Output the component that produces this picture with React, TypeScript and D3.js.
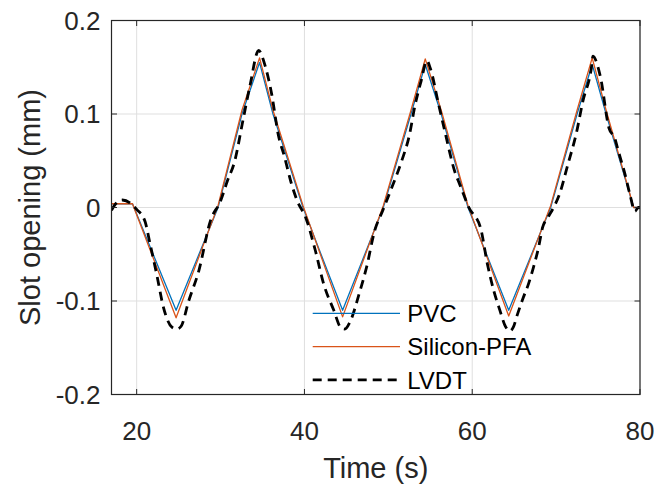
import React, { useEffect, useRef } from 'react';
import * as d3 from 'd3';

// simulated slot opening (PVC and Silicon-PFA models), time in s, opening in mm
const simTime = [17, 19.5, 24.7, 29.7, 32.55, 34.65, 36.25, 39.83, 44.55, 49.4, 52.7, 54.4, 56.3, 59.5, 64.35, 69.35, 72.5, 74.3, 75.96, 79.25, 80];
const pvc = [0.004, 0.004, -0.110, 0, 0.1, 0.155, 0.1, 0, -0.110, 0, 0.1, 0.153, 0.1, 0, -0.110, 0, 0.1, 0.153, 0.1, 0, 0];
const siliconPfa = [0.004, 0.004, -0.118, 0.002, 0.104, 0.160, 0.104, 0.002, -0.117, 0.002, 0.104, 0.159, 0.104, 0.002, -0.116, 0.002, 0.104, 0.160, 0.104, 0, 0];

// measured (LVDT)
const lvdtTime = [17, 17.5, 18.3, 19.2, 20.0, 21.0, 21.6, 22.4, 23.2, 24.2, 24.8, 25.3, 26.2, 27.4, 28.8, 30.0, 30.8, 31.7, 32.6, 33.5, 34.55, 35.2, 36.1, 36.9, 37.6, 38.4, 39.1, 40.2, 41.3, 42.3, 43.5, 44.3, 44.8, 45.5, 46.5, 47.4, 48.4, 49.3, 50.4, 51.6, 52.5, 53.2, 53.9, 54.6, 55.0, 56.0, 56.8, 57.9, 58.5, 59.6, 61.0, 61.8, 62.6, 63.3, 63.9, 64.5, 64.9, 65.4, 66.1, 66.7, 67.3, 67.9, 68.4, 69.0, 69.7, 70.4, 71.4, 72.4, 73.2, 74.2, 74.4, 74.9, 75.3, 76.3, 77.0, 77.4, 78.2, 78.8, 79.4, 79.8, 80];
const lvdt = [-0.003, 0.004, 0.008, 0.005, -0.002, -0.015, -0.039, -0.072, -0.107, -0.128, -0.130, -0.127, -0.100, -0.068, -0.014, 0.007, 0.028, 0.050, 0.090, 0.130, 0.168, 0.155, 0.121, 0.077, 0.055, 0.027, 0.008, -0.012, -0.046, -0.082, -0.110, -0.128, -0.130, -0.121, -0.093, -0.064, -0.024, -0.004, 0.021, 0.050, 0.077, 0.110, 0.135, 0.157, 0.149, 0.110, 0.079, 0.039, 0.025, 0.000, -0.022, -0.060, -0.090, -0.110, -0.126, -0.132, -0.128, -0.114, -0.096, -0.082, -0.064, -0.043, -0.021, -0.011, 0.000, 0.014, 0.046, 0.079, 0.114, 0.149, 0.162, 0.153, 0.139, 0.085, 0.074, 0.061, 0.036, 0.014, -0.004, 0.000, 0.000];

const xTicks = [20, 40, 60, 80];
const yTicks = [-0.2, -0.1, 0, 0.1, 0.2];
const yTickLabels = ['-0.2', '-0.1', '0', '0.1', '0.2'];
const legendLabels = ['PVC', 'Silicon-PFA', 'LVDT'];

const FONT = '"Liberation Sans", Arial, Helvetica, sans-serif';
const AXIS = '#262626';

const App = () => {
  const ref = useRef<SVGSVGElement | null>(null);

  useEffect(() => {
    if (!ref.current) return;
    const svg = d3.select(ref.current);
    svg.selectAll('*').remove();

    const width = 654, height = 484;
    const margin = { top: 20.5, right: 14, bottom: 89.5, left: 111.5 };
    const iw = width - margin.left - margin.right;
    const ih = height - margin.top - margin.bottom;

    const x = d3.scaleLinear().domain([17, 80]).range([0, iw]);
    const y = d3.scaleLinear().domain([-0.2, 0.2]).range([ih, 0]);

    svg.append('defs').append('clipPath').attr('id', 'plotclip')
      .append('rect').attr('width', iw).attr('height', ih);

    const g = svg.append('g').attr('transform', `translate(${margin.left},${margin.top})`);

    // grid
    g.append('g').selectAll('line').data(xTicks).enter().append('line')
      .attr('x1', d => x(d)).attr('x2', d => x(d)).attr('y1', 0).attr('y2', ih)
      .attr('stroke', '#dfdfdf').attr('stroke-width', 1);
    g.append('g').selectAll('line').data(yTicks).enter().append('line')
      .attr('x1', 0).attr('x2', iw).attr('y1', d => y(d)).attr('y2', d => y(d))
      .attr('stroke', '#dfdfdf').attr('stroke-width', 1);

    const line = d3.line<[number, number]>().x(d => x(d[0])).y(d => y(d[1]));
    const smooth = d3.line<[number, number]>().x(d => x(d[0])).y(d => y(d[1])).curve(d3.curveMonotoneX);

    const series = [
      { pts: simTime.map((t, i) => [t, pvc[i]] as [number, number]), color: '#0072BD', w: 1.3, dash: null, gen: line },
      { pts: simTime.map((t, i) => [t, siliconPfa[i]] as [number, number]), color: '#D95319', w: 1.3, dash: null, gen: line },
      { pts: lvdtTime.map((t, i) => [t, lvdt[i]] as [number, number]), color: '#000000', w: 2.8, dash: '9,6', gen: smooth },
    ];

    const plot = g.append('g').attr('clip-path', 'url(#plotclip)');
    series.forEach(s => {
      plot.append('path')
        .attr('d', s.gen(s.pts))
        .attr('fill', 'none')
        .attr('stroke', s.color)
        .attr('stroke-width', s.w)
        .attr('stroke-dasharray', s.dash)
        .attr('stroke-linejoin', 'round');
    });

    // box + inward ticks
    g.append('rect').attr('width', iw).attr('height', ih)
      .attr('fill', 'none').attr('stroke', AXIS).attr('stroke-width', 1.2);
    const tl = 5.5;
    xTicks.forEach(t => {
      g.append('line').attr('x1', x(t)).attr('x2', x(t)).attr('y1', ih).attr('y2', ih - tl).attr('stroke', AXIS);
      g.append('line').attr('x1', x(t)).attr('x2', x(t)).attr('y1', 0).attr('y2', tl).attr('stroke', AXIS);
    });
    yTicks.forEach(t => {
      g.append('line').attr('x1', 0).attr('x2', tl).attr('y1', y(t)).attr('y2', y(t)).attr('stroke', AXIS);
      g.append('line').attr('x1', iw).attr('x2', iw - tl).attr('y1', y(t)).attr('y2', y(t)).attr('stroke', AXIS);
    });

    // tick labels
    g.append('g').selectAll('text').data(xTicks).enter().append('text')
      .attr('x', d => x(d)).attr('y', ih + 45)
      .attr('text-anchor', 'middle')
      .attr('font-family', FONT).attr('font-size', 26).attr('fill', AXIS)
      .text(d => String(d));
    g.append('g').selectAll('text').data(yTicks).enter().append('text')
      .attr('x', -11).attr('y', d => y(d)).attr('dy', '0.36em')
      .attr('text-anchor', 'end')
      .attr('font-family', FONT).attr('font-size', 26).attr('fill', AXIS)
      .text((d, i) => yTickLabels[i]);

    // axis labels
    g.append('text')
      .attr('x', iw / 2).attr('y', ih + 83)
      .attr('text-anchor', 'middle')
      .attr('font-family', FONT).attr('font-size', 29).attr('fill', AXIS)
      .text('Time (s)');
    g.append('text')
      .attr('transform', `translate(${40 - margin.left},${ih / 2}) rotate(-90)`)
      .attr('text-anchor', 'middle')
      .attr('font-family', FONT).attr('font-size', 29).attr('fill', AXIS)
      .text('Slot opening (mm)');

    // legend (no box)
    const leg = svg.append('g').attr('transform', 'translate(312.7,313.3)');
    legendLabels.forEach((lab, i) => {
      const s = series[i];
      const row = leg.append('g').attr('transform', `translate(0,${i * 33.3})`);
      row.append('line').attr('x1', 0).attr('x2', 87.3).attr('y1', 0).attr('y2', 0)
        .attr('stroke', s.color).attr('stroke-width', s.w).attr('stroke-dasharray', s.dash);
      row.append('text').attr('x', 94.6).attr('y', 0).attr('dy', '0.36em')
        .attr('font-family', FONT).attr('font-size', 24).attr('fill', '#000')
        .text(lab);
    });
  }, []);

  return (
    <div style={{ position: 'absolute', left: 0, top: 0 }}>
      <svg ref={ref} width={654} height={484} style={{ display: 'block', background: '#fff' }} />
    </div>
  );
};

export default App;
